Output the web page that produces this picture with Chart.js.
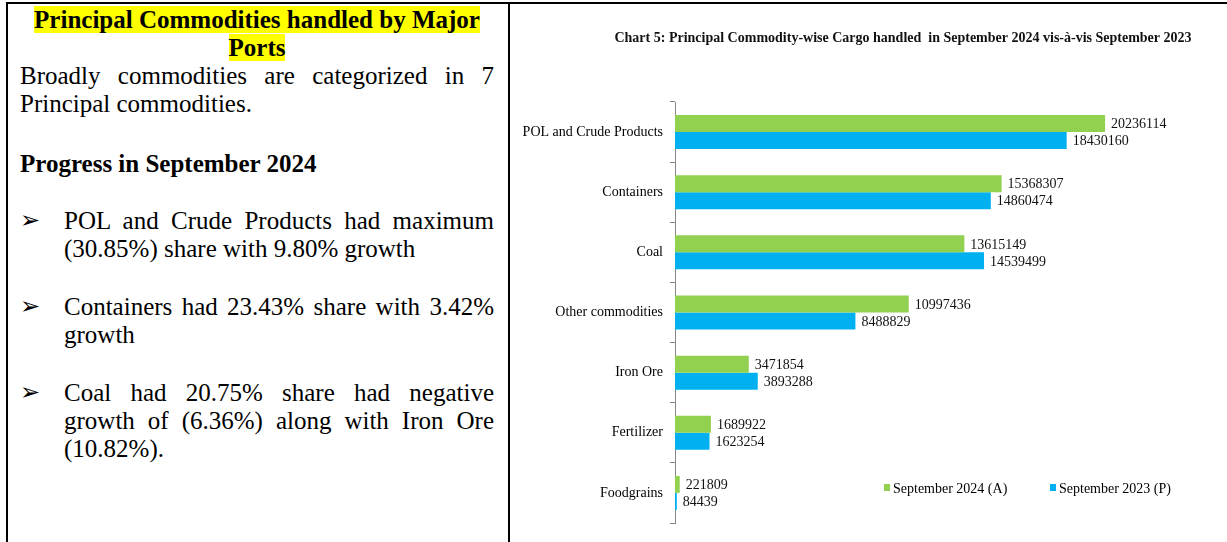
<!DOCTYPE html>
<html>
<head>
<meta charset="utf-8">
<title>Principal Commodity-wise Cargo handled</title>
<script src="https://cdn.jsdelivr.net/npm/chart.js@4.4.1/dist/chart.umd.min.js"></script>
<style>
  html, body { margin: 0; padding: 0; background: #fff; }
  body {
    width: 1227px; height: 542px; overflow: hidden; position: relative;
    font-family: "Liberation Serif", "Times New Roman", serif; color: #000;
  }
  .rule { position: absolute; background: #000; }
  .left {
    position: absolute; left: 20px; top: 6px; width: 474px;
    font-size: 25px; line-height: 28px;
  }
  .left p { margin: 0; text-align: justify; }
  .left p.head { text-align: center; font-weight: bold; }
  .left p.head span { background: #ffff00; }
  .left p.sub { font-weight: bold; margin-top: 32px; }
  .left p.bullet { position: relative; padding-left: 44px; }
  .left p.bullet::before {
    content: "\27A2"; position: absolute; left: 0; top: -1px;
    font-family: "DejaVu Sans"; font-size: 24px; line-height: 28px;
  }
  .left p.b1 { margin-top: 29px; }
  .left p.b2, .left p.b3 { margin-top: 30px; }
  .chart-clip { position: absolute; left: 510px; top: 4px; width: 717px; height: 538px; overflow: hidden; }
  .chart-box { position: absolute; left: 0; top: 0; width: 786px; height: 538px; }
  .legend { position: absolute; top: 481px; font-size: 14px; line-height: 16px; white-space: nowrap; }
  .legend i { display: inline-block; width: 6px; height: 7px; margin-right: 3px; vertical-align: 2px; }
</style>
</head>
<body>
<div class="rule" style="left:6px;top:2px;width:1221px;height:2px"></div>
<div class="rule" style="left:6px;top:2px;width:2px;height:540px"></div>
<div class="rule" style="left:508px;top:2px;width:2px;height:540px"></div>

<div class="left">
  <p class="head"><span>Principal Commodities handled by Major Ports</span></p>
  <p>Broadly commodities are categorized in 7 Principal commodities.</p>
  <p class="sub">Progress in September 2024</p>
  <p class="bullet b1">POL and Crude Products had maximum (30.85%) share with 9.80% growth</p>
  <p class="bullet b2">Containers had 23.43% share with 3.42% growth</p>
  <p class="bullet b3">Coal had 20.75% share had negative growth of (6.36%) along with Iron Ore (10.82%).</p>
</div>

<div class="chart-clip"><div class="chart-box"><canvas id="cargoChart"></canvas></div></div>
<div id="legend"></div>

<script>
// Chart data
const chartTitle = 'Chart 5: Principal Commodity-wise Cargo handled  in September 2024 vis-\u00e0-vis September 2023';
const commodities = ['POL and Crude Products', 'Containers', 'Coal', 'Other commodities', 'Iron Ore', 'Fertilizer', 'Foodgrains'];
const seriesNames = ['September 2024 (A)', 'September 2023 (P)'];
const sep2024 = [20236114, 15368307, 13615149, 10997436, 3471854, 1689922, 221809];
const sep2023 = [18430160, 14860474, 14539499, 8488829, 3893288, 1623254, 84439];

const GREEN = '#92d050';
const BLUE = '#00b0f0';
const SERIF = '"Liberation Serif", "Times New Roman", serif';

// Value labels at the end of each bar
const barValueLabels = {
    id: 'barValueLabels',
    afterDatasetsDraw(chart) {
        const ctx = chart.ctx;
        ctx.save();
        ctx.font = '14px ' + SERIF;
        ctx.fillStyle = '#111';
        ctx.textAlign = 'left';
        ctx.textBaseline = 'middle';
        chart.data.datasets.forEach((ds, i) => {
            chart.getDatasetMeta(i).data.forEach((bar, j) => {
                ctx.fillText(String(ds.data[j]), bar.x + 6, bar.y + 1);
            });
        });
        ctx.restore();
    }
};

const chart = new Chart(document.getElementById('cargoChart'), {
    type: 'bar',
    data: {
        labels: commodities,
        datasets: [
            { label: seriesNames[0], data: sep2024, backgroundColor: GREEN },
            { label: seriesNames[1], data: sep2023, backgroundColor: BLUE }
        ]
    },
    options: {
        indexAxis: 'y',
        responsive: true,
        maintainAspectRatio: false,
        animation: false,
        categoryPercentage: 0.565,
        barPercentage: 1.0,
        layout: { padding: { left: 0, right: 0, top: 0, bottom: 19 } },
        plugins: {
            legend: { display: false },
            tooltip: { enabled: false },
            title: {
                display: true,
                text: chartTitle,
                color: '#111',
                font: { family: SERIF, size: 14, weight: 'bold' },
                padding: { top: 25.6, bottom: 55.6 }
            }
        },
        scales: {
            x: { display: false, min: 0, max: 29220000 },
            y: {
                grid: { drawOnChartArea: false, offset: true, tickLength: 5, color: '#868686' },
                border: { color: '#868686' },
                ticks: { color: '#000', padding: 7, font: { family: SERIF, size: 14 } },
                afterFit(scale) { scale.width = 165; }
            }
        }
    },
    plugins: [barValueLabels]
});

// Legend drawn from the dataset names and colours
const legendLeft = [884, 1050];
document.getElementById('legend').innerHTML = chart.data.datasets.map((ds, i) =>
    `<div class="legend" style="left:${legendLeft[i]}px"><i style="background:${ds.backgroundColor}"></i>${ds.label}</div>`
).join('');
</script>
</body>
</html>
